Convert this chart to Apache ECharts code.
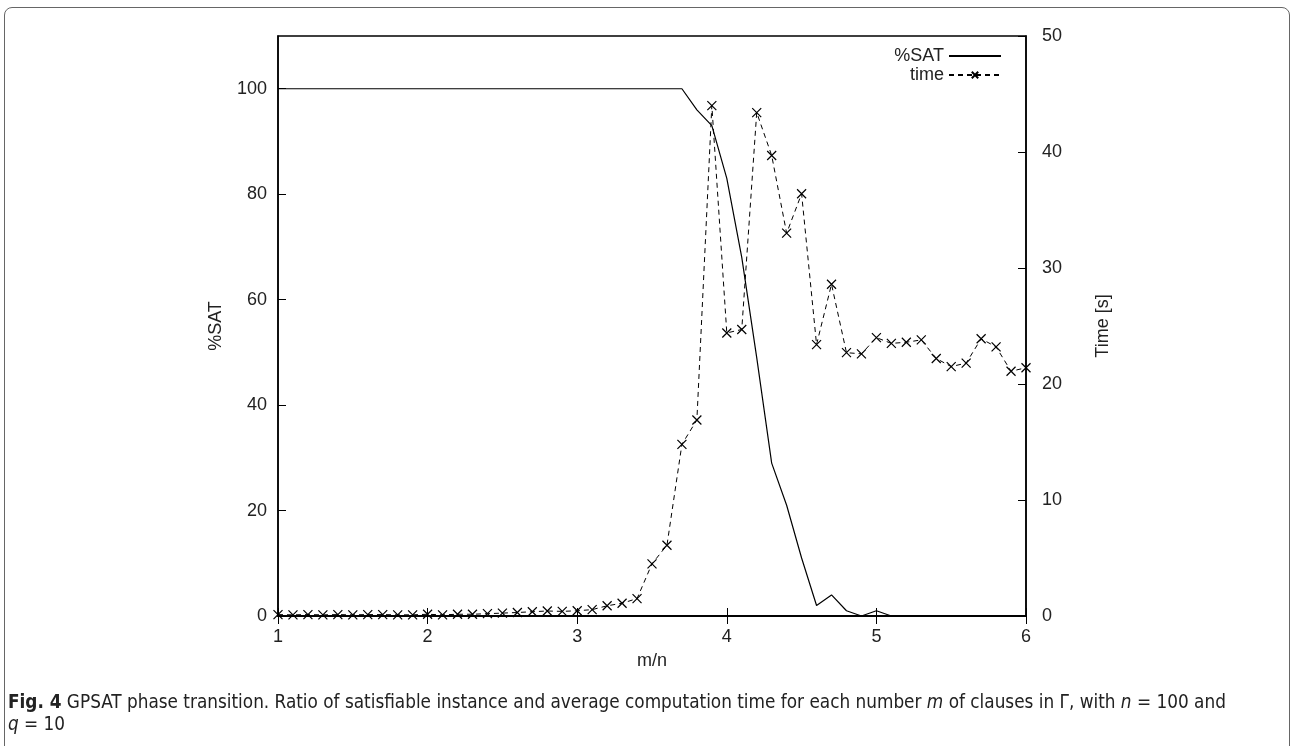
<!DOCTYPE html>
<html>
<head>
    <meta charset="UTF-8">
    <title>GPSAT phase transition</title>
    <script src="https://cdn.jsdelivr.net/npm/echarts@6.0.0/dist/echarts.min.js"></script>
    <style>
        html, body {
            margin: 0;
            padding: 0;
            background: #fff;
        }
        #frame {
            position: absolute;
            left: 4px;
            top: 7px;
            width: 1284px;
            height: 780px;
            border: 1px solid #666;
            border-radius: 8px;
        }
        #chart {
            position: absolute;
            left: 0;
            top: 0;
            width: 1291px;
            height: 746px;
        }
        #caption {
            position: absolute;
            left: 8px;
            top: 691px;
            width: 1270px;
            font-family: "Liberation Sans Narrow", "DejaVu Sans Condensed", "Liberation Sans", sans-serif;
            font-size: 18.8px;
            line-height: 22px;
            color: #222;
            white-space: nowrap;
        }
        #caption i { font-style: italic; }
    </style>
</head>
<body>
    <div id="frame"></div>
    <div id="chart"></div>
    <div id="caption"><b>Fig. 4</b> GPSAT phase transition. Ratio of satisfiable instance and average computation time for each number <i>m</i> of clauses in Γ, with <i>n</i> = 100 and<br><i>q</i> = 10</div>

    <script>
        // m/n ratios
        const ratio = [
            1.0, 1.1, 1.2, 1.3, 1.4, 1.5, 1.6, 1.7, 1.8, 1.9,
            2.0, 2.1, 2.2, 2.3, 2.4, 2.5, 2.6, 2.7, 2.8, 2.9,
            3.0, 3.1, 3.2, 3.3, 3.4, 3.5, 3.6, 3.7, 3.8, 3.9,
            4.0, 4.1, 4.2, 4.3, 4.4, 4.5, 4.6, 4.7, 4.8, 4.9,
            5.0, 5.1, 5.2, 5.3, 5.4, 5.5, 5.6, 5.7, 5.8, 5.9, 6.0
        ];

        // % satisfiable instances
        const satPct = [
            100, 100, 100, 100, 100, 100, 100, 100, 100, 100,
            100, 100, 100, 100, 100, 100, 100, 100, 100, 100,
            100, 100, 100, 100, 100, 100, 100, 100, 96, 93,
            83, 68, 49, 29, 21, 11, 2, 4, 1, 0,
            1, 0, 0, 0, 0, 0, 0, 0, 0, 0, 0
        ];

        // average computation time [s]
        const timeSec = [
            0.12, 0.1, 0.12, 0.1, 0.12, 0.1, 0.12, 0.12, 0.1, 0.1,
            0.15, 0.1, 0.15, 0.15, 0.2, 0.25, 0.3, 0.37, 0.43, 0.4,
            0.45, 0.55, 0.88, 1.1, 1.5, 4.5, 6.1, 14.8, 16.9, 44.0,
            24.4, 24.7, 43.4, 39.7, 33.0, 36.4, 23.4, 28.6, 22.7, 22.6,
            24.0, 23.5, 23.6, 23.8, 22.2, 21.5, 21.8, 23.9, 23.2, 21.1, 21.4
        ];

        const satData = ratio.map((r, i) => [r, satPct[i]]);
        const timeData = ratio.map((r, i) => [r, timeSec[i]]);

        const font = '"Liberation Sans", Arial, sans-serif';
        const crossMark = 'path://M0,0L10,10M10,0L0,10';

        const chart = echarts.init(document.getElementById('chart'));

        const option = {
            animation: false,
            textStyle: { fontFamily: font, color: '#222' },
            grid: {
                left: 278,
                top: 36,
                right: 265,
                bottom: 130,
                show: true,
                borderColor: '#000',
                borderWidth: 1.5
            },
            legend: {
                orient: 'vertical',
                align: 'right',
                right: 284,
                top: 42,
                itemWidth: 52,
                itemHeight: 8,
                itemGap: 1,
                textStyle: { fontFamily: font, fontSize: 18, color: '#222' },
                data: [
                    { name: '%SAT', itemStyle: { opacity: 0 } },
                    'time'
                ]
            },
            xAxis: [{
                type: 'value',
                min: 1,
                max: 6,
                interval: 1,
                name: 'm/n',
                nameLocation: 'middle',
                nameGap: 36,
                nameTextStyle: { fontSize: 18, color: '#222' },
                axisLine: { show: true, lineStyle: { color: '#000', width: 1.5 } },
                axisTick: { show: true, inside: true, length: 8, lineStyle: { color: '#000' } },
                axisLabel: { fontSize: 18, margin: 12, color: '#222' },
                splitLine: { show: false }
            }, {
                type: 'value',
                position: 'top',
                min: 1,
                max: 6,
                interval: 1,
                axisLine: { show: true, lineStyle: { color: '#000', width: 1.5 } },
                axisTick: { show: true, inside: true, length: 8, lineStyle: { color: '#000' } },
                axisLabel: { show: false },
                splitLine: { show: false }
            }],
            yAxis: [{
                type: 'value',
                min: 0,
                max: 110,
                interval: 20,
                name: '%SAT',
                nameLocation: 'middle',
                nameGap: 53,
                nameTextStyle: { fontSize: 18, color: '#222' },
                axisLine: { show: true, lineStyle: { color: '#000', width: 1.5 } },
                axisTick: { show: true, inside: true, length: 8, lineStyle: { color: '#000' } },
                axisLabel: { fontSize: 18, margin: 11, color: '#222', showMaxLabel: false },
                splitLine: { show: false }
            }, {
                type: 'value',
                position: 'right',
                min: 0,
                max: 50,
                interval: 10,
                name: 'Time [s]',
                nameLocation: 'middle',
                nameGap: 68,
                nameTextStyle: { fontSize: 18, color: '#222' },
                axisLine: { show: true, lineStyle: { color: '#000', width: 1.5 } },
                axisTick: { show: true, inside: true, length: 8, lineStyle: { color: '#000' } },
                axisLabel: { fontSize: 18, margin: 16, color: '#222' },
                splitLine: { show: false }
            }],
            series: [{
                name: '%SAT',
                type: 'line',
                xAxisIndex: 0,
                yAxisIndex: 0,
                data: satData,
                symbol: 'none',
                color: '#000',
                lineStyle: { color: '#000', width: 1.2 }
            }, {
                name: 'time',
                type: 'line',
                xAxisIndex: 0,
                yAxisIndex: 1,
                data: timeData,
                symbol: crossMark,
                symbolSize: 9,
                showAllSymbol: true,
                color: '#000',
                itemStyle: { color: 'none', borderColor: '#000', borderWidth: 1.2 },
                lineStyle: { color: '#000', width: 1, type: [5, 4] }
            }]
        };

        chart.setOption(option);

        window.addEventListener('resize', function() {
            chart.resize();
        });
    </script>
</body>
</html>
